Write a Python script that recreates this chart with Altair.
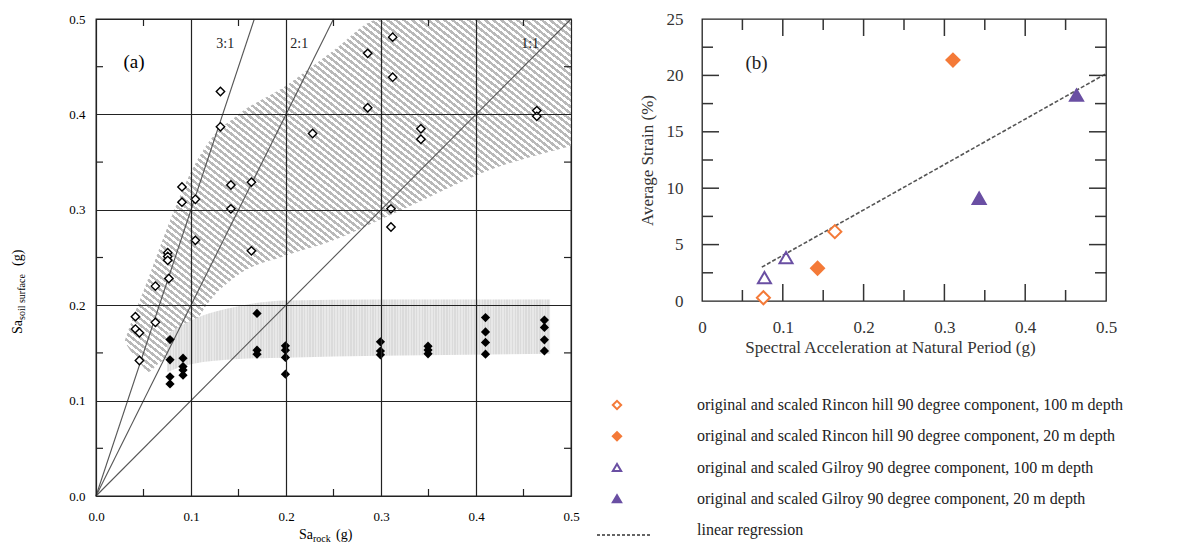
import altair as alt
import pandas as pd

FONT = "Liberation Serif"

# ---------------- Panel (a) data ----------------
open_x = [0.0415, 0.0415, 0.0457, 0.0457, 0.0625, 0.0625, 0.0767, 0.0755, 0.0755, 0.0755,
          0.0905, 0.0905, 0.1046, 0.1046, 0.131, 0.131, 0.142, 0.142, 0.1636, 0.1636,
          0.228, 0.286, 0.286, 0.3123, 0.3123, 0.3105, 0.3105, 0.342, 0.342, 0.464, 0.464]
open_y = [0.188, 0.175, 0.171, 0.142, 0.220, 0.182, 0.228, 0.255, 0.251, 0.247,
          0.324, 0.308, 0.311, 0.268, 0.424, 0.387, 0.326, 0.301, 0.329, 0.257,
          0.380, 0.464, 0.407, 0.481, 0.439, 0.301, 0.282, 0.385, 0.374, 0.404, 0.398]

filled_x = [0.0779, 0.0779, 0.0779, 0.0779, 0.0916, 0.0916, 0.0916, 0.0916,
            0.1695, 0.1695, 0.1695, 0.1994, 0.1994, 0.1994, 0.1994,
            0.2994, 0.2994, 0.2994, 0.3495, 0.3495, 0.3495,
            0.41, 0.41, 0.41, 0.41, 0.472, 0.472, 0.472, 0.472]
filled_y = [0.164, 0.1427, 0.125, 0.1175, 0.1445, 0.1357, 0.132, 0.1266,
            0.1914, 0.1529, 0.1487, 0.1574, 0.1529, 0.1452, 0.1277,
            0.1616, 0.152, 0.148, 0.157, 0.153, 0.149,
            0.187, 0.172, 0.161, 0.1487, 0.1844, 0.1767, 0.1637, 0.1521]

ratio_labels = ["3:1", "2:1", "1:1"]
ratio_slopes = [3, 2, 1]
ratio_label_x = [0.136, 0.214, 0.457]
ratio_label_y = [0.474, 0.474, 0.474]

hatch_x = [0.03, 0.04, 0.05, 0.055, 0.065, 0.08, 0.10, 0.12, 0.15, 0.20, 0.25, 0.30, 0.35, 0.40, 0.50]
hatch_upper = [0.162, 0.19, 0.215, 0.228, 0.255, 0.294, 0.34, 0.373, 0.40, 0.43, 0.467, 0.50, 0.50, 0.50, 0.50]
hatch_lower = [0.162, 0.147, 0.135, 0.13, 0.138, 0.15, 0.175, 0.205, 0.232, 0.252, 0.268, 0.29, 0.313, 0.336, 0.367]

band_x = [0.075, 0.10, 0.15, 0.20, 0.30, 0.478]
band_upper = [0.17, 0.184, 0.199, 0.205, 0.206, 0.206]
band_lower = [0.13, 0.138, 0.1435, 0.145, 0.147, 0.149]

a_major = [0.0, 0.1, 0.2, 0.3, 0.4, 0.5]
a_minor = [0.05, 0.15, 0.25, 0.35, 0.45]

# ---------------- Panel (b) data ----------------
series_names = [
    "original and scaled Rincon hill 90 degree component, 100 m depth",
    "original and scaled Rincon hill 90 degree component, 20 m depth",
    "original and scaled Gilroy 90 degree component, 100 m depth",
    "original and scaled Gilroy 90 degree component, 20 m depth",
]
series_shapes = ["diamond", "diamond", "triangle-up", "triangle-up"]
series_fills = ["white", "#F47A38", "white", "#6A4FA3"]
series_strokes = ["#F47A38", "#F47A38", "#6A4FA3", "#6A4FA3"]

b_series = [0, 0, 1, 1, 2, 2, 3, 3]
b_x = [0.076, 0.1644, 0.143, 0.3106, 0.0773, 0.104, 0.343, 0.4635]
b_y = [0.29, 6.15, 2.9, 21.36, 2.07, 3.84, 9.11, 18.25]

reg_x = [0.074, 0.5]
reg_y = [3.0, 20.15]

b_x_labels = [0.0, 0.1, 0.2, 0.3, 0.4, 0.5]
b_y_labels = [0, 5, 10, 15, 20, 25]
b_x_major = [0.1, 0.2, 0.3, 0.4]
b_x_minor = [0.05, 0.15, 0.25, 0.35, 0.45]
b_y_major = [5, 10, 15, 20]
b_y_minor = [2.5, 7.5, 12.5, 17.5, 22.5]

legend_labels = series_names + ["linear regression"]

# ---------------- helpers ----------------
def stripes(c1, c2, n, frac, x1, y1, x2, y2):
    stops = []
    for i in range(n):
        a, m, b = i / n, (i + frac) / n, (i + 1) / n
        stops += [alt.GradientStop(color=c1, offset=a), alt.GradientStop(color=c1, offset=m),
                  alt.GradientStop(color=c2, offset=m), alt.GradientStop(color=c2, offset=b)]
    return alt.LinearGradient(gradient="linear", stops=stops, x1=x1, y1=y1, x2=x2, y2=y2)

# ================= Panel (a) =================
WA, HA = 475, 477
xs_a = alt.Scale(domain=[0, 0.5], nice=False, zero=False)
ys_a = alt.Scale(domain=[0, 0.5], nice=False, zero=False)
ax_xa = alt.Axis(values=a_major, format=".1f", grid=True, gridColor="#222", gridWidth=1.2,
                 ticks=False, tickSize=0, domain=False, labelFont=FONT, labelFontSize=13,
                 labelColor="black", labelPadding=14, labelFlush=False, title=None, zindex=1)
ax_ya = alt.Axis(values=a_major, format=".1f", grid=True, gridColor="#222", gridWidth=1.2,
                 ticks=False, tickSize=0, domain=False, labelFont=FONT, labelFontSize=13,
                 labelColor="black", labelPadding=11, labelFlush=False, title=None, zindex=1)

df_hatch = pd.DataFrame({"x": hatch_x, "up": hatch_upper, "lo": hatch_lower})
hatch = alt.Chart(df_hatch).mark_area(
    color=stripes("#b9b9b9", "#ffffff", 110, 0.5, 0, 1, 1, 0), interpolate="monotone"
).encode(x=alt.X("x:Q", scale=xs_a, axis=ax_xa),
         y=alt.Y("up:Q", scale=ys_a, axis=ax_ya), y2="lo:Q")

df_band = pd.DataFrame({"x": band_x, "up": band_upper, "lo": band_lower})
band = alt.Chart(df_band).mark_area(
    color=stripes("#dbdbdb", "#e8e8e8", 140, 0.5, 0, 0, 1, 0), interpolate="monotone"
).encode(x=alt.X("x:Q", scale=xs_a, axis=ax_xa),
         y=alt.Y("up:Q", scale=ys_a, axis=ax_ya), y2="lo:Q")

ratio_rows = []
for lab, s in zip(ratio_labels, ratio_slopes):
    ratio_rows.append({"ratio": lab, "x": 0.0, "y": 0.0})
    ratio_rows.append({"ratio": lab, "x": 0.5 / s, "y": 0.5})
ratios = alt.Chart(pd.DataFrame(ratio_rows)).mark_line(color="#555", strokeWidth=1.1).encode(
    x=alt.X("x:Q", scale=xs_a, axis=ax_xa), y=alt.Y("y:Q", scale=ys_a, axis=ax_ya),
    detail="ratio:N")

open_pts = alt.Chart(pd.DataFrame({"x": open_x, "y": open_y})).mark_point(
    shape="diamond", filled=True, fill="white", stroke="black", strokeWidth=1.4, size=70, opacity=1
).encode(x=alt.X("x:Q", scale=xs_a, axis=ax_xa), y=alt.Y("y:Q", scale=ys_a, axis=ax_ya))

filled_pts = alt.Chart(pd.DataFrame({"x": filled_x, "y": filled_y})).mark_point(
    shape="diamond", filled=True, color="black", size=85, opacity=1
).encode(x=alt.X("x:Q", scale=xs_a, axis=ax_xa), y=alt.Y("y:Q", scale=ys_a, axis=ax_ya))

ratio_text = alt.Chart(pd.DataFrame({"t": ratio_labels, "x": ratio_label_x, "y": ratio_label_y})).mark_text(
    font=FONT, fontSize=14, color="#222"
).encode(x=alt.X("x:Q", scale=xs_a, axis=ax_xa), y=alt.Y("y:Q", scale=ys_a, axis=ax_ya), text="t:N")

panel_a_label = alt.Chart(pd.DataFrame({"t": ["(a)"], "x": [0.04], "y": [0.455]})).mark_text(
    font=FONT, fontSize=19, color="black"
).encode(x=alt.X("x:Q", scale=xs_a, axis=ax_xa), y=alt.Y("y:Q", scale=ys_a, axis=ax_ya), text="t:N")

df_aminor = pd.DataFrame({"v": a_minor})
tick_style = dict(color="#222", strokeWidth=1.2)
tb = alt.Chart(df_aminor).mark_rule(**tick_style).encode(
    x=alt.X("v:Q", scale=xs_a, axis=ax_xa), y=alt.value(HA), y2=alt.value(HA - 7))
tt = alt.Chart(df_aminor).mark_rule(**tick_style).encode(
    x=alt.X("v:Q", scale=xs_a, axis=ax_xa), y=alt.value(0), y2=alt.value(7))
tl = alt.Chart(df_aminor).mark_rule(**tick_style).encode(
    y=alt.Y("v:Q", scale=ys_a, axis=ax_ya), x=alt.value(0), x2=alt.value(7))
tr = alt.Chart(df_aminor).mark_rule(**tick_style).encode(
    y=alt.Y("v:Q", scale=ys_a, axis=ax_ya), x=alt.value(WA), x2=alt.value(WA - 7))

# axis titles with subscripts (text marks)
xt_main = alt.Chart(pd.DataFrame({"t": ["Sa"]})).mark_text(
    font=FONT, fontSize=14, align="left", baseline="alphabetic", color="black"
).encode(text="t:N", x=alt.value(203), y=alt.value(520))
xt_sub = alt.Chart(pd.DataFrame({"t": ["rock"]})).mark_text(
    font=FONT, fontSize=10, align="left", baseline="alphabetic", color="black"
).encode(text="t:N", x=alt.value(217), y=alt.value(523))
xt_unit = alt.Chart(pd.DataFrame({"t": ["(g)"]})).mark_text(
    font=FONT, fontSize=14, align="left", baseline="alphabetic", color="black"
).encode(text="t:N", x=alt.value(240), y=alt.value(520))

yt_main = alt.Chart(pd.DataFrame({"t": ["Sa"]})).mark_text(
    font=FONT, fontSize=14, align="left", baseline="alphabetic", color="black", angle=270
).encode(text="t:N", x=alt.value(-74), y=alt.value(315))
yt_sub = alt.Chart(pd.DataFrame({"t": ["soil surface"]})).mark_text(
    font=FONT, fontSize=10, align="left", baseline="alphabetic", color="black", angle=270
).encode(text="t:N", x=alt.value(-71), y=alt.value(301))
yt_unit = alt.Chart(pd.DataFrame({"t": ["(g)"]})).mark_text(
    font=FONT, fontSize=14, align="left", baseline="alphabetic", color="black", angle=270
).encode(text="t:N", x=alt.value(-74), y=alt.value(247))

panel_a = alt.layer(hatch, band, ratios, open_pts, filled_pts, ratio_text, panel_a_label,
                    tb, tt, tl, tr, xt_main, xt_sub, xt_unit, yt_main, yt_sub, yt_unit
                    ).properties(width=WA, height=HA)

# ================= Panel (b) =================
WB, HB = 404, 282
xs_b = alt.Scale(domain=[0, 0.5], nice=False, zero=False)
def ys_b():
    return alt.Scale(domain=[0, 25], nice=False, zero=False)
ax_xb = alt.Axis(values=b_x_labels, format="~g", grid=False, ticks=False, tickSize=0, domain=False,
                 labelFont=FONT, labelFontSize=17, labelColor="#333", labelPadding=18, labelFlush=False,
                 title="Spectral Acceleration at Natural Period (g)", titleFont=FONT,
                 titleFontSize=17, titleFontWeight="normal", titleColor="#333",
                 titlePadding=4, titleX=188)
ax_yb = alt.Axis(values=b_y_labels, grid=False, ticks=False, tickSize=0, domain=False,
                 labelFont=FONT, labelFontSize=17, labelColor="#333", labelPadding=19, labelFlush=False,
                 title="Average Strain (%)", titleFont=FONT, titleFontSize=17,
                 titleFontWeight="normal", titleColor="#333", titlePadding=10)

shape_scale = alt.Scale(domain=series_names, range=series_shapes)
fill_scale = alt.Scale(domain=series_names, range=series_fills)
stroke_scale = alt.Scale(domain=series_names, range=series_strokes)

df_b = pd.DataFrame({"series": [series_names[i] for i in b_series], "x": b_x, "y": b_y})
pts_b = alt.Chart(df_b).mark_point(filled=True, size=170, strokeWidth=2, opacity=1).encode(
    x=alt.X("x:Q", scale=xs_b, axis=ax_xb),
    y=alt.Y("y:Q", scale=ys_b(), axis=ax_yb),
    shape=alt.Shape("series:N", scale=shape_scale, legend=None),
    fill=alt.Fill("series:N", scale=fill_scale, legend=None),
    stroke=alt.Stroke("series:N", scale=stroke_scale, legend=None),
)

reg = alt.Chart(pd.DataFrame({"x": reg_x, "y": reg_y})).mark_line(
    color="#555", strokeWidth=1.6, strokeDash=[4, 2]
).encode(x=alt.X("x:Q", scale=xs_b, axis=ax_xb), y=alt.Y("y:Q", scale=ys_b(), axis=None))

b_label = alt.Chart(pd.DataFrame({"t": ["(b)"], "x": [0.0675], "y": [21.1]})).mark_text(
    font=FONT, fontSize=19, color="#222"
).encode(x=alt.X("x:Q", scale=xs_b, axis=ax_xb), y=alt.Y("y:Q", scale=ys_b(), axis=None), text="t:N")

tstyle_b = dict(color="#333", strokeWidth=1.5)
def xticks(vals, length):
    d = pd.DataFrame({"v": vals})
    bot = alt.Chart(d).mark_rule(**tstyle_b).encode(
        x=alt.X("v:Q", scale=xs_b, axis=ax_xb), y=alt.value(HB), y2=alt.value(HB - length))
    top = alt.Chart(d).mark_rule(**tstyle_b).encode(
        x=alt.X("v:Q", scale=xs_b, axis=ax_xb), y=alt.value(0), y2=alt.value(length))
    return [bot, top]
def yticks(vals, length):
    d = pd.DataFrame({"v": vals})
    left = alt.Chart(d).mark_rule(**tstyle_b).encode(
        y=alt.Y("v:Q", scale=ys_b(), axis=None), x=alt.value(0), x2=alt.value(length))
    right = alt.Chart(d).mark_rule(**tstyle_b).encode(
        y=alt.Y("v:Q", scale=ys_b(), axis=None), x=alt.value(WB), x2=alt.value(WB - length))
    return [left, right]

tick_layers = xticks(b_x_major, 17) + xticks(b_x_minor, 11) + yticks(b_y_major, 17) + yticks(b_y_minor, 11)

# legend (below panel b)
leg_rows = list(range(len(legend_labels)))
leg_scale = alt.Scale(domain=[0, 4], range=[386, 511], nice=False, zero=False)
df_leg = pd.DataFrame({"series": series_names, "row": leg_rows[:4]})
leg_marks = alt.Chart(df_leg).mark_point(filled=True, size=70, strokeWidth=2, opacity=1).encode(
    x=alt.value(-85),
    y=alt.Y("row:Q", scale=leg_scale, axis=None),
    shape=alt.Shape("series:N", scale=shape_scale, legend=None),
    fill=alt.Fill("series:N", scale=fill_scale, legend=None),
    stroke=alt.Stroke("series:N", scale=stroke_scale, legend=None),
)
leg_text = alt.Chart(pd.DataFrame({"t": legend_labels, "row": leg_rows})).mark_text(
    font=FONT, fontSize=16, align="left", baseline="middle", color="#222"
).encode(x=alt.value(-5), y=alt.Y("row:Q", scale=leg_scale, axis=None), text="t:N")
leg_dash = alt.Chart(pd.DataFrame({"row": [leg_rows[4]]})).mark_rule(
    color="#333", strokeWidth=1.3, strokeDash=[3, 2], yOffset=5
).encode(x=alt.value(-105), x2=alt.value(-50), y=alt.Y("row:Q", scale=leg_scale, axis=None))

panel_b = alt.layer(reg, pts_b, b_label, *tick_layers, leg_marks, leg_text, leg_dash
                    ).resolve_scale(y="independent").properties(width=WB, height=HB)

chart = alt.hconcat(panel_a, panel_b, spacing=131, bounds="flush").properties(
    padding={"left": 2, "top": 1, "right": 0, "bottom": 0}
).configure_view(stroke="#222", strokeWidth=1.3)

chart.save("out.html", embed_options={"renderer": "svg", "actions": False})
